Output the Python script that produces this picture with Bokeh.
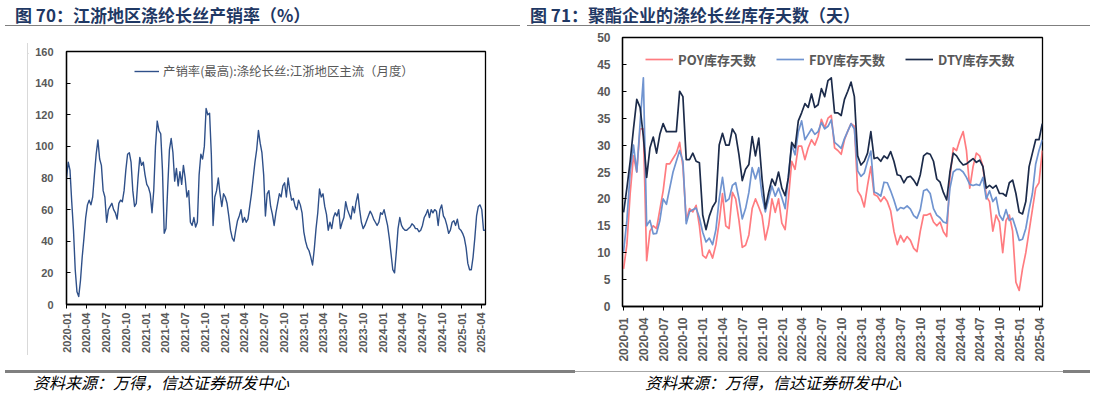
import numpy as np
import pandas as pd
from bokeh.plotting import figure
from bokeh.models import (Range1d, FixedTicker, DatetimeTickFormatter, Legend,
                          LegendItem, Div, Spacer)
from bokeh.layouts import row, column
from bokeh.embed import file_html
from bokeh.resources import INLINE

# ---------------- texts ----------------
left_title = "图 70：江浙地区涤纶长丝产销率（%）"
right_title = "图 71：聚酯企业的涤纶长丝库存天数（天）"
source_text = "资料来源：万得，信达证券研发中心"
left_series_name = "产销率(最高):涤纶长丝:江浙地区主流（月度）"
poy_name = "POY库存天数"
fdy_name = "FDY库存天数"
dty_name = "DTY库存天数"

# ---------------- ticks ----------------
xtick_labels = ["2020-01", "2020-04", "2020-07", "2020-10",
                "2021-01", "2021-04", "2021-07", "2021-10",
                "2022-01", "2022-04", "2022-07", "2022-10",
                "2023-01", "2023-04", "2023-07", "2023-10",
                "2024-01", "2024-04", "2024-07", "2024-10",
                "2025-01", "2025-04"]
left_yticks = [0, 20, 40, 60, 80, 100, 120, 140, 160]
right_yticks = [0, 5, 10, 15, 20, 25, 30, 35, 40, 45, 50]

# ---------------- left data (evenly spaced readings) ----------------
rate_first_date = "2020-01-01"
rate_last_date = "2025-04-19"
rate_values = [
    80, 90, 85, 65, 47, 22, 8, 5, 15, 30,
    42, 55, 63, 66, 63, 68, 82, 95, 104, 92,
    88, 72, 68, 52, 60, 62, 64, 60, 58, 54,
    64, 66, 65, 72, 85, 95, 96, 90, 72, 62,
    64, 80, 93, 88, 90, 82, 76, 74, 70, 58,
    72, 100, 116, 110, 108, 85, 45, 48, 74, 98,
    105, 96, 78, 86, 75, 84, 76, 88, 80, 68,
    72, 52, 50, 55, 49, 52, 82, 95, 92, 100,
    124, 120, 121, 95, 50, 68, 72, 80, 70, 62,
    70, 68, 64, 56, 47, 42, 40, 47, 53, 56,
    60, 52, 55, 52, 54, 62, 70, 80, 90, 98,
    110, 102, 96, 82, 56, 70, 72, 62, 57, 50,
    58, 64, 70, 68, 75, 77, 68, 80, 72, 66,
    67, 62, 60, 66, 63, 58, 46, 40, 36, 34,
    30, 25, 35, 48, 58, 73, 68, 70, 62, 57,
    47, 52, 48, 55, 58, 56, 60, 48, 52, 55,
    65, 60, 57, 54, 62, 58, 65, 70, 60, 52,
    48, 50, 53, 56, 59, 57, 54, 52, 50, 52,
    58, 57, 60, 55, 50, 42, 32, 22, 20, 33,
    48, 55, 50, 48, 47, 47, 48, 49, 51, 50,
    48, 48, 46, 47, 50, 55, 57, 60, 55, 60,
    58, 60, 59, 50, 60, 63, 56, 54, 50, 45,
    47, 52, 53, 50, 54, 48, 47, 45, 42, 36,
    26, 22, 22, 30, 42, 56, 62, 63, 60, 47,
    47,
]

# ---------------- right data (half-monthly readings) ----------------
days_first_date = "2020-01-01"
days_last_date = "2025-04-15"
poy_days = [
    7, 11.5, 21, 28, 25, 33, 33, 8.5, 14, 15,
    14.5, 18, 21.5, 26.5, 26.5, 27.5, 28.5, 30.5, 26, 16,
    18.2, 17.6, 18.8, 15, 9.5, 9, 10.5, 9, 11.5, 15.7,
    21, 15, 14.5, 21.2, 20, 16, 11, 11.4, 13.3, 18.2,
    20, 18.5, 16.9, 12.4, 15.1, 20, 17.5, 20, 15.5, 14.3,
    20, 27, 25.5, 29.8, 29.8, 27.3, 29.5, 31, 30, 31.6,
    34.8, 33.2, 35, 35.5, 29.5, 29, 28.3, 31, 32.6, 34,
    33.5, 21.5, 20.5, 18.5, 22.5, 26, 20.8, 20.5, 19.5, 20.4,
    19.5, 17.8, 14, 11.5, 13.2, 12, 13, 12.3, 10.8, 10.2,
    14, 17, 17, 17.3, 15.7, 15, 15.7, 13.9, 13, 24,
    29.5, 29, 31, 32.5, 29, 22, 26, 28.5, 28, 26,
    20.5, 19.5, 14, 17, 15.7, 10, 16, 17, 14, 4.5,
    3, 7, 10, 14, 18, 22, 23, 29,
]
fdy_days = [
    10.2, 16, 25, 30, 25, 34, 42.5, 15, 16, 13.5,
    13.6, 16, 20, 19, 22, 25, 27, 29, 27, 15.4,
    17.6, 18, 18.3, 16.5, 13.8, 12, 12.7, 11.5, 14.3, 20,
    24, 19.5, 20, 22.5, 23, 20, 16.3, 18.2, 21.2, 25.8,
    23.7, 25.8, 20.6, 17.6, 20, 22.4, 20.5, 22, 20.2, 18.2,
    24.5, 30, 28.2, 32.5, 34.5, 31, 32, 33, 32, 32.5,
    34.2, 33, 33.5, 34.7, 30.5, 30, 29.4, 31.2, 32.6, 34,
    33, 25.2, 24.2, 24.8, 27, 28.9, 21.3, 21, 20.5, 23.1,
    23, 21.5, 19.8, 17.8, 18.4, 18.2, 18.7, 18.1, 16.9, 16.4,
    18, 21.5, 21.8, 21, 18.2, 17, 16.5, 15.7, 15.5, 22,
    25, 25.5, 25.5, 25, 24, 22.7, 22.5, 22.7, 22.5, 24,
    20, 21.5, 19.5, 20.3, 17, 16, 18, 16, 16.4, 14.5,
    12.3, 12.5, 14.5, 18, 21, 26.5, 29, 31,
]
dty_days = [
    17.5, 22, 27, 33, 38.5, 37, 31.6, 24, 29.5, 31.5,
    28.5, 32, 34, 32.5, 32.5, 32.5, 32.5, 40, 39, 27.3,
    27.3, 28.5, 27, 26.7, 17, 14.3, 16.8, 18.5, 19.5, 30,
    32.2, 30, 30, 33, 32, 28.2, 23.4, 25.5, 26.4, 31.6,
    28, 31.3, 23.7, 18.2, 21.2, 23.7, 22.5, 25, 22, 20.6,
    24, 30.5, 29.5, 34.5, 36, 37.7, 37, 39.5, 37, 37.5,
    40.5, 39, 42, 42.5, 36, 36, 35.5, 38.5, 40, 41.7,
    39, 28, 26.3, 27, 28.5, 32.5, 27.5, 27.7, 27, 28,
    27.5, 28.8, 27, 24.5, 24.3, 23, 24, 24.2, 23.5, 22.5,
    24.5, 28, 28.5, 28.3, 27, 23.7, 23.1, 21.2, 19.8, 25,
    28.5, 28, 27, 26.3, 26.5, 27, 27.5, 26.8, 27.2, 26,
    22, 22.5, 22, 22.5, 21, 21, 20.5, 23, 23.5, 21,
    17.5, 17.2, 19.5, 26, 28.5, 31, 31, 34,
]

# ---------------- styles ----------------
LEFT_COLOR = "#2F5089"
POY_COLOR = "#FF7C80"
FDY_COLOR = "#7094D0"
DTY_COLOR = "#1C2B4A"
TITLE_COLOR = "#1F3864"
LABEL_COLOR = "#595959"
CJK = "Noto Sans CJK SC"

tick_ms = [pd.Timestamp(s + "-01").value // 10**6 for s in xtick_labels]
fmt = DatetimeTickFormatter(days="%Y-%m", months="%Y-%m", years="%Y-%m")


def style_axes(p, font_size, y_standoff, x_standoff, yticks):
    p.outline_line_color = "black"
    p.outline_line_width = 1.3
    p.background_fill_color = "white"
    p.border_fill_color = "white"
    p.xgrid.visible = False
    p.ygrid.visible = False
    p.xaxis.ticker = FixedTicker(ticks=tick_ms)
    p.xaxis.formatter = fmt
    p.xaxis.major_label_orientation = np.pi / 2
    p.yaxis.ticker = FixedTicker(ticks=yticks)
    for ax in (p.xaxis[0], p.yaxis[0]):
        ax.axis_line_color = "black"
        ax.axis_line_width = 1.3
        ax.major_tick_line_color = "black"
        ax.major_tick_line_width = 1
        ax.minor_tick_line_color = None
        ax.major_label_text_font = "Liberation Sans"
        ax.major_label_text_font_style = "bold"
        ax.major_label_text_color = LABEL_COLOR
        ax.major_label_text_font_size = font_size
    p.xaxis.major_tick_in = 0
    p.xaxis.major_tick_out = 4
    p.yaxis.major_tick_in = 4
    p.yaxis.major_tick_out = 0
    p.yaxis.major_label_standoff = y_standoff
    p.xaxis.major_label_standoff = x_standoff


# ---------------- left chart ----------------
rate_dates = pd.date_range(rate_first_date, rate_last_date, periods=len(rate_values))
p_left = figure(width=519, height=321, x_axis_type="datetime",
                x_range=Range1d(pd.Timestamp("2020-01-01"), pd.Timestamp("2025-04-20")),
                y_range=Range1d(0, 160), output_backend="svg", toolbar_location=None,
                min_border_left=38, min_border_right=62, min_border_top=8,
                min_border_bottom=60)
style_axes(p_left, "11px", 13, 4, left_yticks)
r_rate = p_left.line(rate_dates, rate_values, line_color=LEFT_COLOR, line_width=1.4,
                     line_join="round")
leg_l = Legend(items=[LegendItem(label=left_series_name, renderers=[r_rate])],
               location=(68, 223), orientation="horizontal", padding=0, margin=0,
               border_line_color=None, background_fill_alpha=0,
               glyph_width=25, glyph_height=20, label_height=20, label_standoff=4,
               label_text_font=CJK, label_text_font_size="12.4px",
               label_text_color=LABEL_COLOR)
p_left.add_layout(leg_l)

# ---------------- right chart ----------------
days_dates = pd.date_range(days_first_date, days_last_date, periods=len(dty_days))
p_right = figure(width=546, height=337, x_axis_type="datetime",
                 x_range=Range1d(pd.Timestamp("2019-12-27"), pd.Timestamp("2025-04-16")),
                 y_range=Range1d(0, 50), output_backend="svg", toolbar_location=None,
                 min_border_left=75, min_border_right=51, min_border_top=10,
                 min_border_bottom=56)
style_axes(p_right, "12px", 12, 7, right_yticks)
r_poy = p_right.line(days_dates, poy_days, line_color=POY_COLOR, line_width=1.7,
                     line_join="round")
r_fdy = p_right.line(days_dates, fdy_days, line_color=FDY_COLOR, line_width=1.7,
                     line_join="round")
r_dty = p_right.line(days_dates, dty_days, line_color=DTY_COLOR, line_width=1.7,
                     line_join="round")
leg_r = Legend(items=[LegendItem(label=poy_name, renderers=[r_poy]),
                      LegendItem(label=fdy_name, renderers=[r_fdy]),
                      LegendItem(label=dty_name, renderers=[r_dty])],
               location=(23, 237), orientation="horizontal", padding=0, margin=0,
               spacing=20, border_line_color=None, background_fill_alpha=0,
               glyph_width=28, glyph_height=20, label_height=20, label_standoff=5,
               label_text_font=CJK, label_text_font_size="13px",
               label_text_font_style="bold", label_text_color=LABEL_COLOR)
p_right.add_layout(leg_r)

# ---------------- page decorations (page starts at 0,0) ----------------
title_html = f"""
<div style="position:relative;width:1093px;height:27px;font-family:'{CJK}';">
 <div style="position:absolute;left:15px;top:6px;font-size:17px;line-height:17px;font-weight:bold;color:{TITLE_COLOR};white-space:nowrap;">{left_title}</div>
 <div style="position:absolute;left:5px;top:24.5px;width:515px;height:1.5px;background:#7F7F7F;"></div>
 <div style="position:absolute;left:530px;top:6px;font-size:17px;line-height:17px;font-weight:bold;color:{TITLE_COLOR};white-space:nowrap;">{right_title}</div>
 <div style="position:absolute;left:527px;top:24.5px;width:563px;height:1.5px;background:#7F7F7F;"></div>
</div>"""
title_div = Div(text=title_html, width=1093, height=27, margin=0)

source_html = f"""
<div style="position:relative;width:1093px;height:30px;font-family:'{CJK}';">
 <div style="position:absolute;left:5px;top:6px;width:570px;height:2.5px;background:#808080;"></div>
 <div style="position:absolute;left:575px;top:6.7px;width:488px;height:1px;background:#A6A6A6;"></div>
 <div style="position:absolute;left:1063px;top:6px;width:27px;height:2.5px;background:#808080;"></div>
 <div style="position:absolute;left:33px;top:10px;font-size:16px;line-height:16px;font-style:italic;color:#000000;white-space:nowrap;">{source_text}</div>
 <div style="position:absolute;left:645px;top:10px;font-size:16px;line-height:16px;font-style:italic;color:#000000;white-space:nowrap;">{source_text}</div>
</div>"""
source_div = Div(text=source_html, width=1093, height=30, margin=0)

box_top = Div(text='<div style="width:468px;height:1px;background:#D9D9D9;"></div>',
              width=468, height=1, margin=0)
box_left = Div(text='<div style="width:1px;height:312px;background:#D9D9D9;"></div>',
               width=1, height=312, margin=0)

left_block = column(Spacer(width=520, height=15, margin=0), box_top,
                    row(box_left, p_left, spacing=0), spacing=0)
main_row = row(Spacer(width=27, height=337, margin=0), left_block, p_right, spacing=0)
page = column(title_div, main_row, source_div, spacing=0)

open("out.html", "w").write(file_html(page, INLINE))
